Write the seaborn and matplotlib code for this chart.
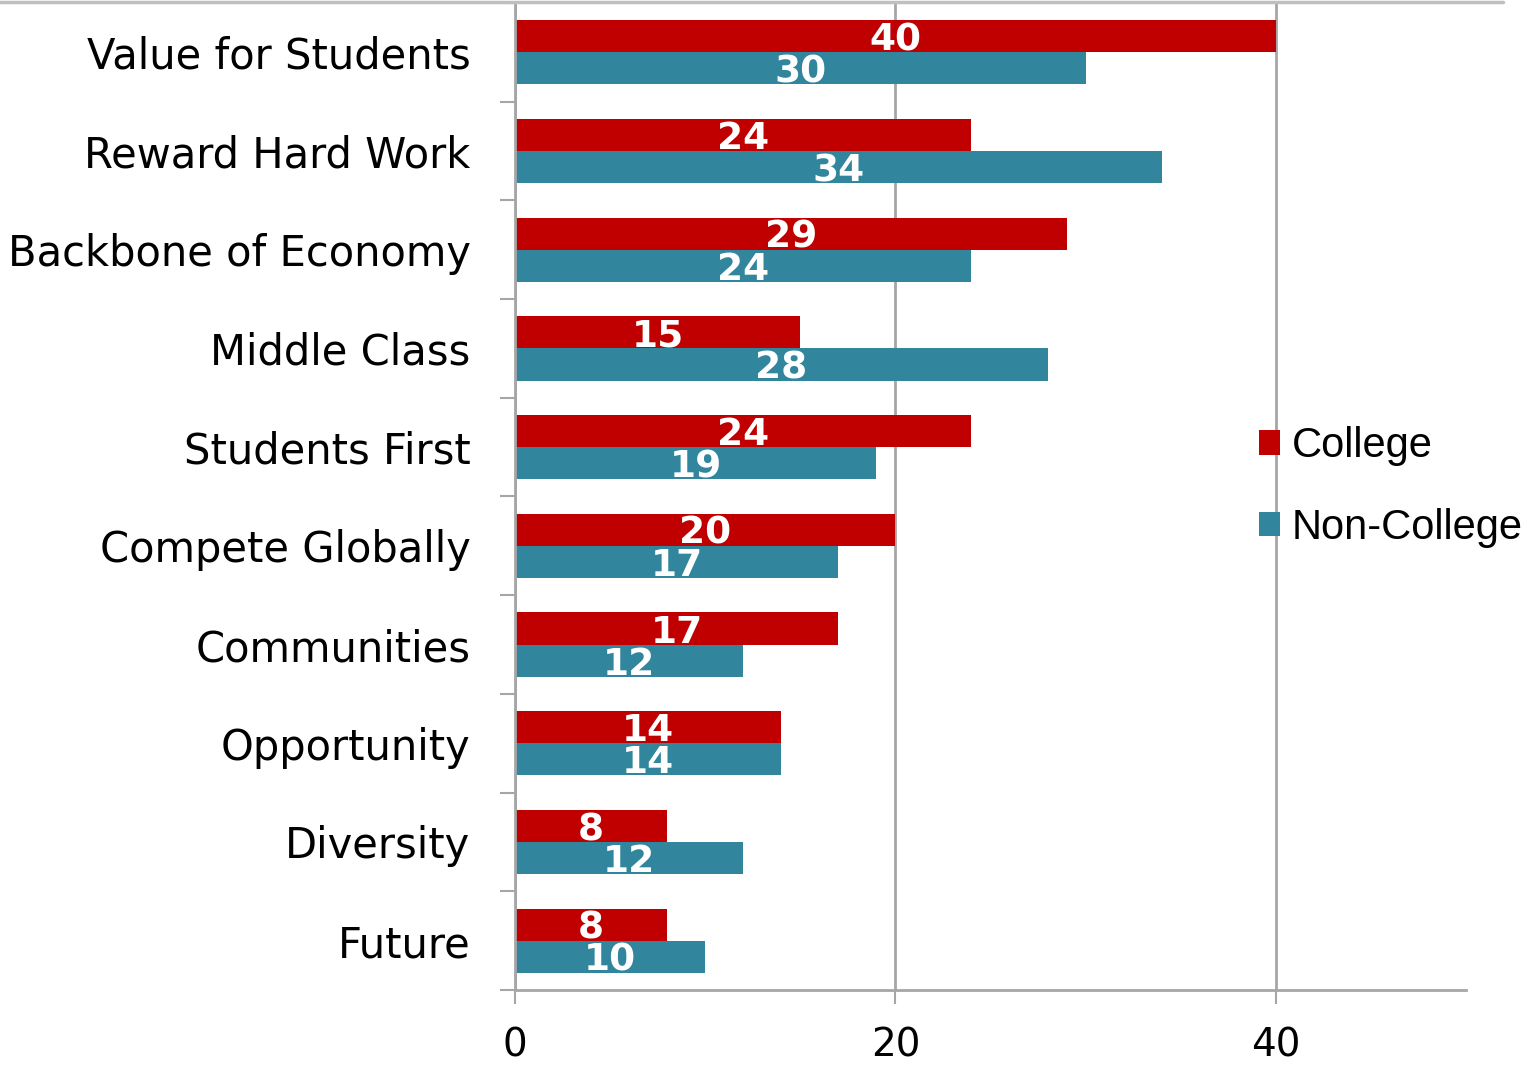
import matplotlib
matplotlib.use("Agg")
import matplotlib.pyplot as plt
from matplotlib.lines import Line2D
from matplotlib.ticker import FixedLocator
import pandas as pd
import seaborn as sns

sns.set_theme(style="white")
plt.rcParams['font.family'] = ['DejaVu Sans']
plt.rcParams['text.color'] = 'black'
plt.rcParams['xtick.color'] = 'black'
plt.rcParams['ytick.color'] = 'black'

# ------------------------------------------------------------------
# data
# ------------------------------------------------------------------
categories = ['Value for Students', 'Reward Hard Work', 'Backbone of Economy',
              'Middle Class', 'Students First', 'Compete Globally',
              'Communities', 'Opportunity', 'Diversity', 'Future']
college = [40, 24, 29, 15, 24, 20, 17, 14, 8, 8]
non_college = [30, 34, 24, 28, 19, 17, 12, 14, 12, 10]
groups = ['College', 'Non-College']
colors = ['#C00000', '#31859C']

df = pd.DataFrame({
    'Category': categories * 2,
    'Value': college + non_college,
    'Group': [groups[0]] * len(categories) + [groups[1]] * len(categories),
})

# ------------------------------------------------------------------
# plot
# ------------------------------------------------------------------
fig = plt.figure(figsize=(15.29, 10.67), dpi=100)
ax = fig.add_axes([515 / 1529, 1 - 990 / 1067, (1466 - 515) / 1529, (990 - 3) / 1067])

sns.barplot(data=df, x='Value', y='Category', hue='Group', hue_order=groups,
            order=categories, palette=colors, saturation=1, width=0.65,
            orient='h', errorbar=None, linewidth=0, ax=ax)

# white bold value labels, centred in each bar (nudged down a touch)
for cont in ax.containers:
    texts = ax.bar_label(cont, label_type='center', color='white', fontsize=27,
                         fontweight='bold')
    for t in texts:
        t.xyann = (0, -3)

grid_col = '#A6A6A6'
ax.set_xlim(0, 50)
ax.set_ylim(len(categories) - 0.5, -0.5)
ax.set_xticks([0, 20, 40])
ax.xaxis.grid(True, color=grid_col, linewidth=2)
ax.yaxis.grid(False)
ax.set_axisbelow(True)
ax.set_xlabel('')
ax.set_ylabel('')

for side in ['top', 'right']:
    ax.spines[side].set_visible(False)
for side in ['left', 'bottom']:
    ax.spines[side].set_color(grid_col)
    ax.spines[side].set_linewidth(2)

ax.tick_params(axis='x', length=10, width=1.5, color=grid_col, direction='out',
               labelsize=28, labelcolor='black', pad=16, bottom=True)
ax.tick_params(axis='y', which='major', length=0, labelsize=30,
               labelcolor='black', pad=32)
ax.yaxis.set_minor_locator(FixedLocator([i - 0.5 for i in range(len(categories) + 1)]))
ax.tick_params(axis='y', which='minor', length=11, width=1.5, color=grid_col,
               direction='out', left=True)

handles, labels = ax.get_legend_handles_labels()
ax.legend(handles, labels, loc='center left',
          bbox_to_anchor=(1221 / 1529, 1 - 487 / 1067),
          bbox_transform=fig.transFigure, frameon=False,
          prop={'family': 'Liberation Sans', 'size': 30},
          handlelength=0.52, handleheight=0.52, handletextpad=0.28,
          labelspacing=1.0)

# thin gray rule along the top edge
fig.add_artist(Line2D([0, 1503 / 1529], [1 - 1.5 / 1067] * 2, color='#BFBFBF',
                      linewidth=2.5, transform=fig.transFigure))

fig.savefig('out.png', dpi=100)
